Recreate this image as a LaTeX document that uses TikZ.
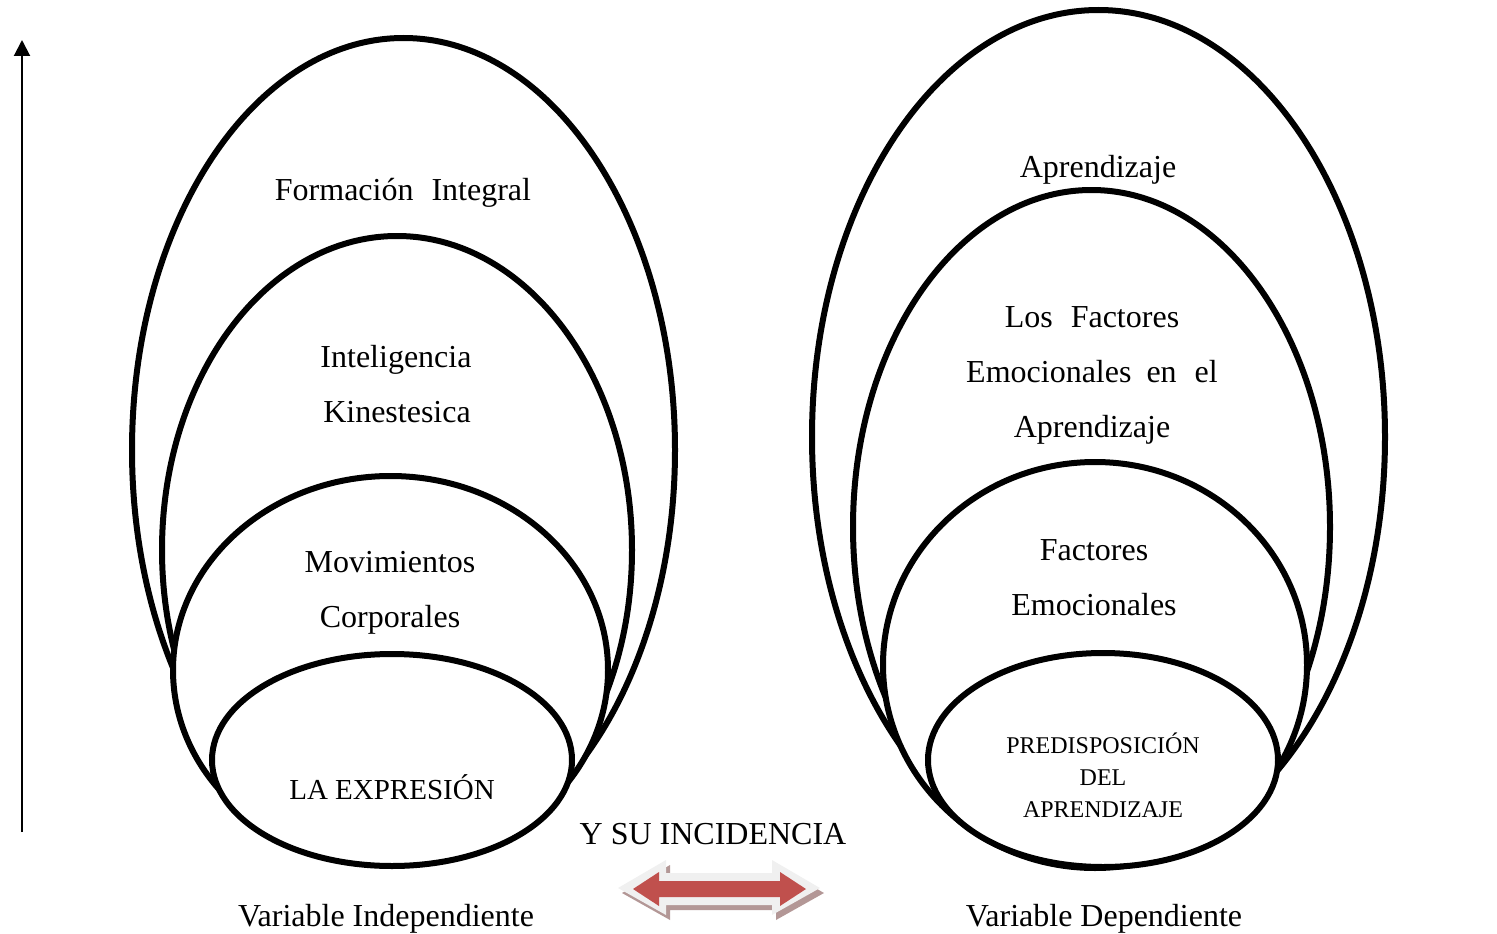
\documentclass[tikz,border=0pt]{standalone}
\usepackage{fontspec}
\setmainfont{Liberation Serif}
\usetikzlibrary{arrows.meta}
\definecolor{arrowred}{HTML}{C0504D}
\definecolor{arrowrim}{HTML}{F0F0F0}
\definecolor{arrowshade}{HTML}{B39796}
\begin{document}
\begin{tikzpicture}[x=1pt,y=-1pt,
  ring/.style={draw=black,fill=white,line width=6pt},
  lbl/.style={anchor=base,inner sep=0pt,font=\fontsize{32}{38}\selectfont},
  midlbl/.style={anchor=base,inner sep=0pt,font=\fontsize{29}{34}\selectfont},
  smalllbl/.style={anchor=base,inner sep=0pt,font=\fontsize{24}{28}\selectfont}]
\useasboundingbox (0,0) rectangle (1497,934);

% vertical arrow
\coordinate (vbot) at (22,832);
\coordinate (vtop) at (22,40);
\draw[line width=2pt,-{Triangle[length=16pt,width=16pt]}] (vbot) -- (vtop);

% left group
\draw[ring] (403.5,450) ellipse [x radius=271.5pt, y radius=412pt];
\draw[ring] (397,550) ellipse [x radius=235pt, y radius=314pt];
\draw[ring] (390.5,670) ellipse [x radius=217.5pt, y radius=194pt];
\draw[ring] (392,760) ellipse [x radius=180pt, y radius=106pt];

% right group
\draw[ring] (1098.5,437) ellipse [x radius=286.5pt, y radius=427pt];
\draw[ring] (1091.5,527) ellipse [x radius=238.5pt, y radius=337pt];
\draw[ring] (1095,665) ellipse [x radius=212pt, y radius=203pt];
\draw[ring] (1103,760) ellipse [x radius=175pt, y radius=107pt];

% left texts
\node[lbl] (fi) at (403,200) {Formación\hspace{18pt}Integral};
\node[lbl] (ik1) at (396,367) {Inteligencia};
\node[lbl] (ik2) at (397,422) {Kinestesica};
\node[lbl] (mc1) at (390,572) {Movimientos};
\node[lbl] (mc2) at (390,627) {Corporales};
\node[midlbl] (lae) at (392,799) {LA EXPRESIÓN};

% right texts
\node[lbl] (ap) at (1098,177) {Aprendizaje};
\node[lbl] (lf1) at (1092,327) {Los\hspace{18pt}Factores};
\node[lbl] (lf2) at (1092,382) {Emocionales\hspace{15pt}en\hspace{18pt}el};
\node[lbl] (lf3) at (1092,437) {Aprendizaje};
\node[lbl] (fe1) at (1094,560) {Factores};
\node[lbl] (fe2) at (1094,615) {Emocionales};
\node[smalllbl] (pd1) at (1103,753) {PREDISPOSICIÓN};
\node[smalllbl] (pd2) at (1103,785) {DEL};
\node[smalllbl] (pd3) at (1103,817) {APRENDIZAJE};

% middle / bottom texts
\node[lbl] (ysu) at (713,844) {Y SU INCIDENCIA};
\node[lbl] (vi) at (386,926) {Variable Independiente};
\node[lbl] (vd) at (1104,926) {Variable Dependiente};

% double arrow
\fill[arrowshade] (622,893) -- (670,865) -- (670,878) -- (776,878) -- (776,865) -- (824,893)
  -- (776,920) -- (776,910) -- (670,910) -- (670,920) -- cycle;
\fill[arrowrim] (618,888) -- (666,860) -- (666,873) -- (772,873) -- (772,860) -- (820,888)
  -- (772,915) -- (772,905) -- (666,905) -- (666,915) -- cycle;
\fill[arrowred] (633,889) -- (659,872) -- (659,881) -- (780,881) -- (780,872) -- (806,889)
  -- (780,906) -- (780,897) -- (659,897) -- (659,906) -- cycle;
\end{tikzpicture}
\end{document}
